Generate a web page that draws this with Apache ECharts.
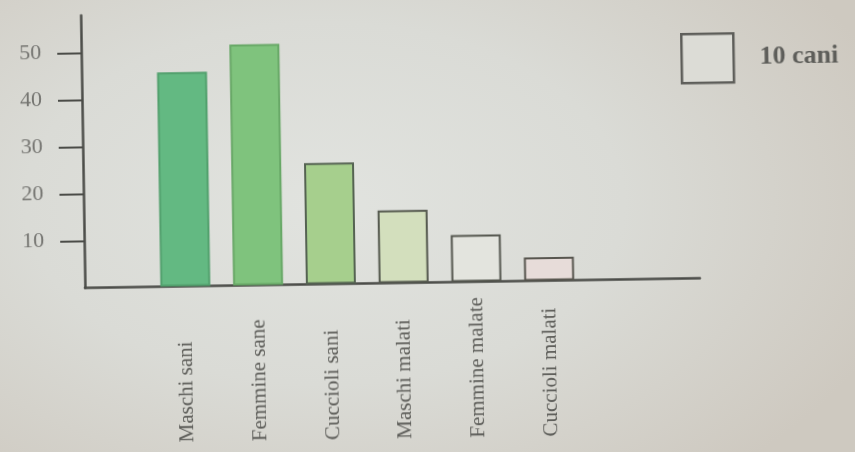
<!DOCTYPE html>
<html>
<head>
<meta charset="utf-8">
<script src="https://cdn.jsdelivr.net/npm/echarts@6/dist/echarts.min.js"></script>
<style>
html,body{margin:0;padding:0;width:855px;height:452px;overflow:hidden;
background:radial-gradient(ellipse 70% 80% at 38% 45%, #e1e3df 0%, #dadbd6 50%, #cec9c0 100%);}
#c{width:855px;height:452px;transform:rotate(-0.9deg);transform-origin:427px 226px;}
</style>
</head>
<body>
<div id="c"></div>
<script>
const categories = ['Maschi sani','Femmine sane','Cuccioli sani','Maschi malati','Femmine malate','Cuccioli malati'];
const values = [45.6, 51.3, 25.8, 15.5, 10, 5];
const barColors = ['#63b982','#7fc37d','#a6cf8d','#d3dfbd','#e3e4de','#e7dcd9'];
const borderColors = ['#52a06d','#68a867','#556352','#55594f','#55574f','#58564f'];
const yTicks = [10,20,30,40,50];
const legendLabel = '10 cani';

const chart = echarts.init(document.getElementById('c'), null, {renderer:'canvas'});
const axisColor = '#4b4c48';
chart.setOption({
  backgroundColor: 'transparent',
  animation: false,
  grid: {left: 84, right: 156, top: 10, bottom: 169.5, containLabel: false},
  legend: {
    left: 678, top: 32, itemWidth: 52, itemHeight: 49,
    data: [{name: legendLabel, icon: 'rect',
      itemStyle: {color: '#dcdcd6', borderColor: '#5e5e5a', borderWidth: 2.5}}],
    textStyle: {fontFamily: 'Liberation Serif', fontSize: 26, fontWeight: 'bold', color: '#5e5e5a', padding: [0,0,0,21]}
  },
  xAxis: {
    type: 'value', min: -1.38, max: 7.07,
    splitLine: {show: false},
    axisLine: {show: true, onZero: false, lineStyle: {color: axisColor, width: 2.5}},
    axisTick: {show: false},
    axisLabel: {
      customValues: categories.map((c, i) => i),
      formatter: v => categories[Math.round(v)] || '',
      rotate: 90, align: 'left', verticalAlign: 'middle', margin: 156,
      fontFamily: 'Liberation Serif', fontSize: 21, color: '#5e5e5a',
      padding: [8,0,0,0]
    }
  },
  yAxis: {
    type: 'value', min: 0, max: 58,
    splitLine: {show: false},
    axisLine: {show: true, onZero: false, lineStyle: {color: axisColor, width: 2.5}},
    axisTick: {show: true, customValues: yTicks, length: 24, lineStyle: {color: axisColor, width: 2}},
    axisLabel: {
      customValues: yTicks, margin: 40,
      fontFamily: 'Liberation Serif', fontSize: 22, color: '#747470'
    }
  },
  series: [{
    name: legendLabel, type: 'bar', barWidth: 50,
    data: categories.map((c, i) => ({
      value: [i, values[i]],
      itemStyle: {color: barColors[i], borderColor: borderColors[i], borderWidth: 2}
    }))
  }]
});
</script>
</body>
</html>
